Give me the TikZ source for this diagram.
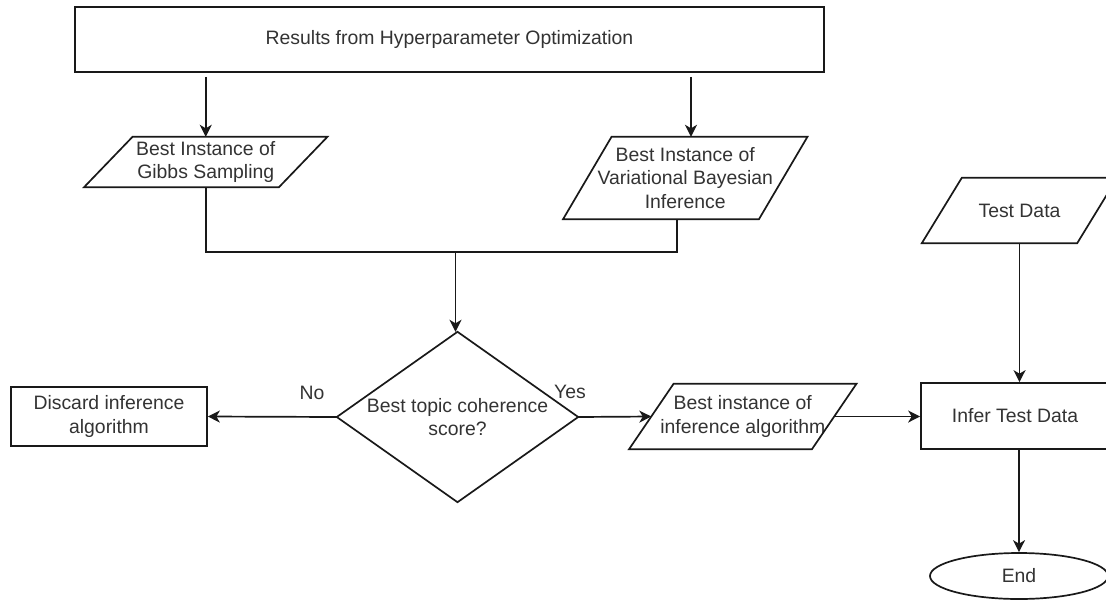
\documentclass[tikz,border=0pt]{standalone}
\usepackage{fontspec}
\setmainfont{Liberation Sans}
\usetikzlibrary{arrows.meta,shapes.geometric}

% slanted (input/output) box drawn around a named frame node; #2 = half slant
\newcommand\slantbox[2]{%
  \draw[outline] ([xshift=#2]#1.north west) -- ([xshift=#2]#1.north east)
    -- ([xshift=-#2]#1.south east) -- ([xshift=-#2]#1.south west) -- cycle;}

\begin{document}
\begin{tikzpicture}[x=1pt,y=-1pt,
  every node/.style={font=\fontsize{19.4}{23.5}\selectfont, text=black!80,
                     align=center, inner sep=0pt},
  outline/.style={draw=black!90, line width=1.7pt},
  frame/.style 2 args={minimum width=#1, minimum height=#2},
  rect/.style 2 args={outline, rectangle, minimum width=#1, minimum height=#2},
  arr/.style={draw=black!90, line width=1.7pt,
              -{Stealth[length=12pt,width=12pt,inset=3.5pt]}},
  link/.style={draw=black!90, line width=1.7pt}
]
\useasboundingbox (0,0) rectangle (1106,600);
\fill[white] (0,0) rectangle (1106,600);
\clip (0,0) rectangle (1106,600);

% process boxes
\node[rect={749pt}{65pt}] (top) at (449.5,39.5) {Results from Hyperparameter Optimization};
\node[rect={196pt}{59pt}] (discard) at (109,416.5) {Discard inference\\algorithm};
\node[rect={188pt}{66pt}] (infer) at (1015,416) {Infer Test Data};

% data (slanted) boxes
\node[frame={194.5pt}{50pt}] (gibbs) at (205.75,162) {Best Instance of\\Gibbs Sampling};
\slantbox{gibbs}{24.25pt}
\node[frame={195.5pt}{82pt}] (vb) at (685.25,178) {Best Instance of\\Variational Bayesian\\Inference};
\slantbox{vb}{24.25pt}
\node[frame={182.5pt}{65pt}] (best) at (742.75,416.5) {Best instance of\\inference algorithm};
\slantbox{best}{22.25pt}
\node[frame={155pt}{65pt}] (test) at (1019.5,210.5) {Test Data};
\slantbox{test}{20pt}

% decision
\node[frame={241pt}{170pt}] (dec) at (457.5,417) {Best topic coherence\\score?};
\draw[outline] (dec.north) -- (dec.east) -- (dec.south) -- (dec.west) -- cycle;

% terminator
\node[outline, ellipse, minimum width=178pt, minimum height=46pt] (end) at (1019,576) {End};

% connectors
\draw[arr, shorten <=4pt] (gibbs.north |- top.south) -- (gibbs.north);
\draw[arr, shorten <=4pt] ([xshift=5.75pt]vb.north |- top.south) -- ([xshift=5.75pt]vb.north);
\coordinate (join) at ([xshift=-2pt]dec.north |- 0,252);
\draw[arr] (gibbs.south) |- (join) -- ([xshift=-2pt]dec.north);
\draw[link] ([xshift=-8.25pt]vb.south) |- (join);
\draw[arr] (dec.west) -- (discard.east);
\draw[arr] (dec.east) -- (best.west);
\draw[arr] (best.east) -- (best.east -| infer.west);
\draw[arr] (test.south) -- (test.south |- infer.north);
\draw[arr] (end.north |- infer.south) -- (end.north);

% branch labels
\node (no) at (312,393) {No};
\node (yes) at (570,392) {Yes};
\end{tikzpicture}
\end{document}
